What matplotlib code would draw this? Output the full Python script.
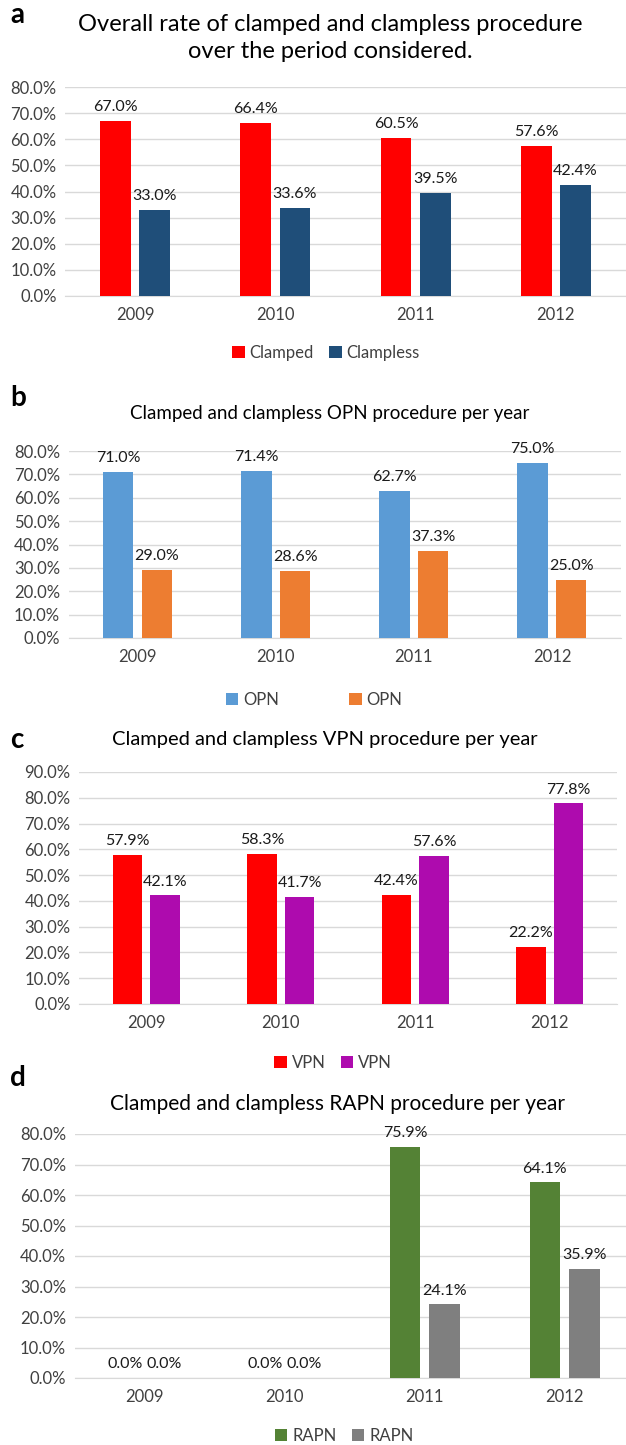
import matplotlib
matplotlib.use('Agg')
import matplotlib.pyplot as plt
import numpy as np
from matplotlib.ticker import PercentFormatter

plt.rcParams['font.family'] = ['Lato', 'DejaVu Sans']

years = ['2009', '2010', '2011', '2012']

overall_clamped = [67.0, 66.4, 60.5, 57.6]
overall_clampless = [33.0, 33.6, 39.5, 42.4]
opn_clamped = [71.0, 71.4, 62.7, 75.0]
opn_clampless = [29.0, 28.6, 37.3, 25.0]
vpn_clamped = [57.9, 58.3, 42.4, 22.2]
vpn_clampless = [42.1, 41.7, 57.6, 77.8]
rapn_clamped = [0.0, 0.0, 75.9, 64.1]
rapn_clampless = [0.0, 0.0, 24.1, 35.9]

W, H = 626, 1445
fig = plt.figure(figsize=(W / 100, H / 100), dpi=100)

TXT = '#1A1A1A'
TICK = '#404040'
GRID = '#D9D9D9'


def px_axes(x0, x1, ytop, ybot):
    return fig.add_axes([x0 / W, 1 - ybot / H, (x1 - x0) / W, (ybot - ytop) / H])


def panel(box, a, b, names, colors, ymax, legend_xy, colsp):
    ax = px_axes(*box)
    x = np.arange(len(years))
    width = 0.22
    r1 = ax.bar(x - 0.14, np.array(a) / 100, width, color=colors[0], label=names[0], zorder=3)
    r2 = ax.bar(x + 0.14, np.array(b) / 100, width, color=colors[1], label=names[1], zorder=3)
    for rects, vals in ((r1, a), (r2, b)):
        for rect, v in zip(rects, vals):
            ax.annotate('{:.1f}%'.format(v),
                        xy=(rect.get_x() + rect.get_width() / 2, rect.get_height()),
                        xytext=(0, 5), textcoords='offset points',
                        ha='center', va='bottom', fontsize=11.5, color=TXT)
    ax.set_xlim(-0.5, 3.5)
    ax.set_ylim(0, ymax)
    ax.set_yticks(np.arange(0, ymax + 0.001, 0.1))
    ax.yaxis.set_major_formatter(PercentFormatter(1.0, decimals=1))
    ax.set_xticks(x)
    ax.set_xticklabels(years)
    ax.tick_params(length=0, labelsize=12, labelcolor=TICK)
    ax.tick_params(axis='x', pad=8)
    ax.tick_params(axis='y', pad=6)
    ax.grid(axis='y', color=GRID, linewidth=1, zorder=0)
    for s in ['top', 'right', 'left']:
        ax.spines[s].set_visible(False)
    ax.spines['bottom'].set_color(GRID)
    lx, ly = legend_xy
    fig.legend(handles=[r1, r2], labels=names, loc='center',
               bbox_to_anchor=(lx / W, 1 - ly / H), ncol=2, frameon=False,
               fontsize=12, handlelength=0.75, handleheight=0.75, handletextpad=0.3,
               columnspacing=colsp, labelcolor=TICK)
    return ax


panel((65, 626, 87, 296), overall_clamped, overall_clampless, ['Clamped', 'Clampless'],
      ['#FF0000', '#1F4E79'], 0.8, (326, 353), 0.9)
panel((68.5, 621, 451, 638), opn_clamped, opn_clampless, ['OPN', 'OPN'],
      ['#5B9BD5', '#ED7D31'], 0.8, (314, 700), 4.2)
panel((79, 617, 772, 1004), vpn_clamped, vpn_clampless, ['VPN', 'VPN'],
      ['#FF0000', '#AE0BAE'], 0.9, (333, 1063), 0.9)
panel((74.5, 634.5, 1134, 1378), rapn_clamped, rapn_clampless, ['RAPN', 'RAPN'],
      ['#548235', '#7F7F7F'], 0.8, (344, 1436), 0.9)

fig.text(330 / W, 1 - 38 / H, 'Overall rate of clamped and clampless procedure\nover the period considered.',
         ha='center', va='center', fontsize=17, color='black', linespacing=1.35)
fig.text(330 / W, 1 - 414 / H, 'Clamped and clampless OPN procedure per year',
         ha='center', va='center', fontsize=13.5, color='black')
fig.text(325 / W, 1 - 740 / H, 'Clamped and clampless VPN procedure per year',
         ha='center', va='center', fontsize=14.5, color='black')
fig.text(338 / W, 1 - 1104 / H, 'Clamped and clampless RAPN procedure per year',
         ha='center', va='center', fontsize=15, color='black')

for letter, y in (('a', 15), ('b', 398), ('c', 740), ('d', 1078)):
    fig.text(10 / W, 1 - y / H, letter, ha='left', va='center', fontsize=20,
             fontweight='bold', color='black')

fig.savefig('out.png', dpi=100)
